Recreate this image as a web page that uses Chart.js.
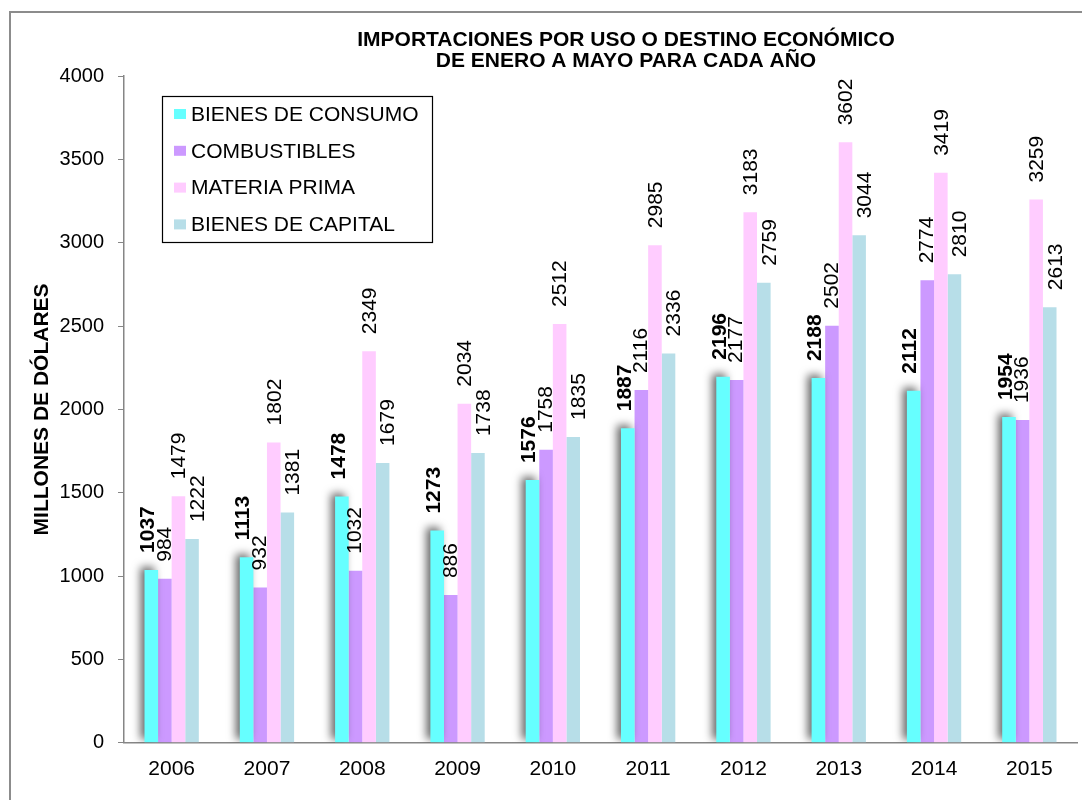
<!DOCTYPE html>
<html>
<head>
<meta charset="utf-8">
<script src="https://cdn.jsdelivr.net/npm/chart.js@4.4.1/dist/chart.umd.min.js"></script>
<style>
  html, body { margin: 0; padding: 0; background: #fff; }
  #wrap { width: 1082px; height: 800px; }
</style>
</head>
<body>
<div id="wrap"><canvas id="chart" width="1082" height="800"></canvas></div>
<script>
// data (millones de dólares)
var years = ['2006', '2007', '2008', '2009', '2010', '2011', '2012', '2013', '2014', '2015'];
var bienesConsumo = [1037, 1113, 1478, 1273, 1576, 1887, 2196, 2188, 2112, 1954];
var combustibles = [984, 932, 1032, 886, 1758, 2116, 2177, 2502, 2774, 1936];
var materiaPrima = [1479, 1802, 2349, 2034, 2512, 2985, 3183, 3602, 3419, 3259];
var bienesCapital = [1222, 1381, 1679, 1738, 1835, 2336, 2759, 3044, 2810, 2613];
var seriesNames = ['BIENES DE CONSUMO', 'COMBUSTIBLES', 'MATERIA PRIMA', 'BIENES DE CAPITAL'];
var titleLines = ['IMPORTACIONES POR USO O DESTINO ECONÓMICO', 'DE ENERO A MAYO PARA CADA AÑO'];
var yTitle = 'MILLONES DE DÓLARES';

var colors = ['#66FFFF', '#CC99FF', '#FFCCFF', '#B7DEE8'];
var FONT = '"Liberation Sans", Arial, sans-serif';

// outer frame (only top/left edges are visible)
var framePlugin = {
  id: 'frame',
  beforeDraw: function(chart) {
    var ctx = chart.ctx;
    ctx.save();
    ctx.strokeStyle = '#8c8c8c';
    ctx.lineWidth = 2;
    ctx.strokeRect(10, 12, 1200, 900);
    ctx.restore();
  }
};

// drop shadow under first series
var shadowPlugin = {
  id: 'barShadow',
  beforeDatasetDraw: function(chart, args) {
    if (args.index !== 0) return;
    var ctx = chart.ctx;
    ctx.save();
    ctx.shadowColor = 'rgba(0,0,0,0.6)';
    ctx.shadowBlur = 8;
    ctx.shadowOffsetX = -4;
    ctx.shadowOffsetY = -3;
  },
  afterDatasetDraw: function(chart, args) {
    if (args.index !== 0) return;
    chart.ctx.restore();
  }
};

// vertical value labels above each bar
var labelPlugin = {
  id: 'valueLabels',
  afterDatasetsDraw: function(chart) {
    var ctx = chart.ctx;
    var shift = [-3, 0, 1, 6];
    chart.data.datasets.forEach(function(ds, i) {
      var meta = chart.getDatasetMeta(i);
      meta.data.forEach(function(bar, j) {
        ctx.save();
        ctx.translate(bar.x + shift[i], bar.y - 17);
        ctx.rotate(-Math.PI / 2);
        ctx.font = (i === 0 ? 'bold ' : '') + '21px ' + FONT;
        ctx.fillStyle = '#000';
        ctx.textAlign = 'left';
        ctx.textBaseline = 'middle';
        ctx.fillText(String(ds.data[j]), 0, 0);
        ctx.restore();
      });
    });
  }
};

// boxed legend in upper left + two-line title
var legendTitlePlugin = {
  id: 'boxLegend',
  afterDraw: function(chart) {
    var ctx = chart.ctx;
    var a = chart.chartArea;
    ctx.save();
    var bx = a.left + 38, by = a.top + 20, bw = 270, bh = 146;
    ctx.fillStyle = '#fff';
    ctx.fillRect(bx, by, bw, bh);
    ctx.strokeStyle = '#000';
    ctx.lineWidth = 1.2;
    ctx.strokeRect(bx + 0.5, by + 0.5, bw, bh);
    ctx.font = '21px ' + FONT;
    ctx.textBaseline = 'middle';
    ctx.textAlign = 'left';
    chart.data.datasets.forEach(function(ds, i) {
      var cy = by + 18 + i * 36.8;
      ctx.fillStyle = ds.backgroundColor;
      ctx.fillRect(bx + 12, cy - 5, 12, 10);
      ctx.fillStyle = '#000';
      ctx.fillText(ds.label, bx + 29, cy + 1);
    });

    ctx.font = 'bold 21px ' + FONT;
    ctx.textAlign = 'center';
    titleLines.forEach(function(t, i) {
      ctx.fillText(t, 626, 40 + i * 21);
    });
    ctx.restore();
  }
};

var datasets = [bienesConsumo, combustibles, materiaPrima, bienesCapital].map(function(vals, i) {
  return {
    label: seriesNames[i],
    data: vals,
    backgroundColor: colors[i],
    borderWidth: 0,
    categoryPercentage: 0.57,
    barPercentage: 1.0
  };
});

new Chart(document.getElementById('chart'), {
  type: 'bar',
  data: { labels: years, datasets: datasets },
  plugins: [framePlugin, shadowPlugin, labelPlugin, legendTitlePlugin],
  options: {
    responsive: false,
    animation: false,
    layout: { padding: { top: 76, right: 5, bottom: 4, left: 0 } },
    plugins: {
      legend: { display: false },
      title: { display: false },
      tooltip: { enabled: false }
    },
    scales: {
      x: {
        grid: { display: false, drawTicks: false },
        border: { display: true, color: '#868686', width: 1.5 },
        ticks: { color: '#000', font: { family: FONT, size: 21 }, padding: 14 }
      },
      y: {
        min: 0,
        max: 4000,
        afterFit: function(s) { s.width = 124; },
        grid: { display: true, drawOnChartArea: false, drawTicks: true, tickLength: 6, color: '#868686' },
        border: { display: true, color: '#868686', width: 1.5 },
        ticks: {
          stepSize: 500,
          color: '#000',
          font: { family: FONT, size: 20 },
          padding: 14,
          callback: function(v) { return String(v); }
        },
        title: {
          display: true,
          text: yTitle,
          color: '#000',
          font: { family: FONT, size: 21, weight: 'bold' },
          padding: { top: 30, bottom: 0 }
        }
      }
    }
  }
});
</script>
</body>
</html>
